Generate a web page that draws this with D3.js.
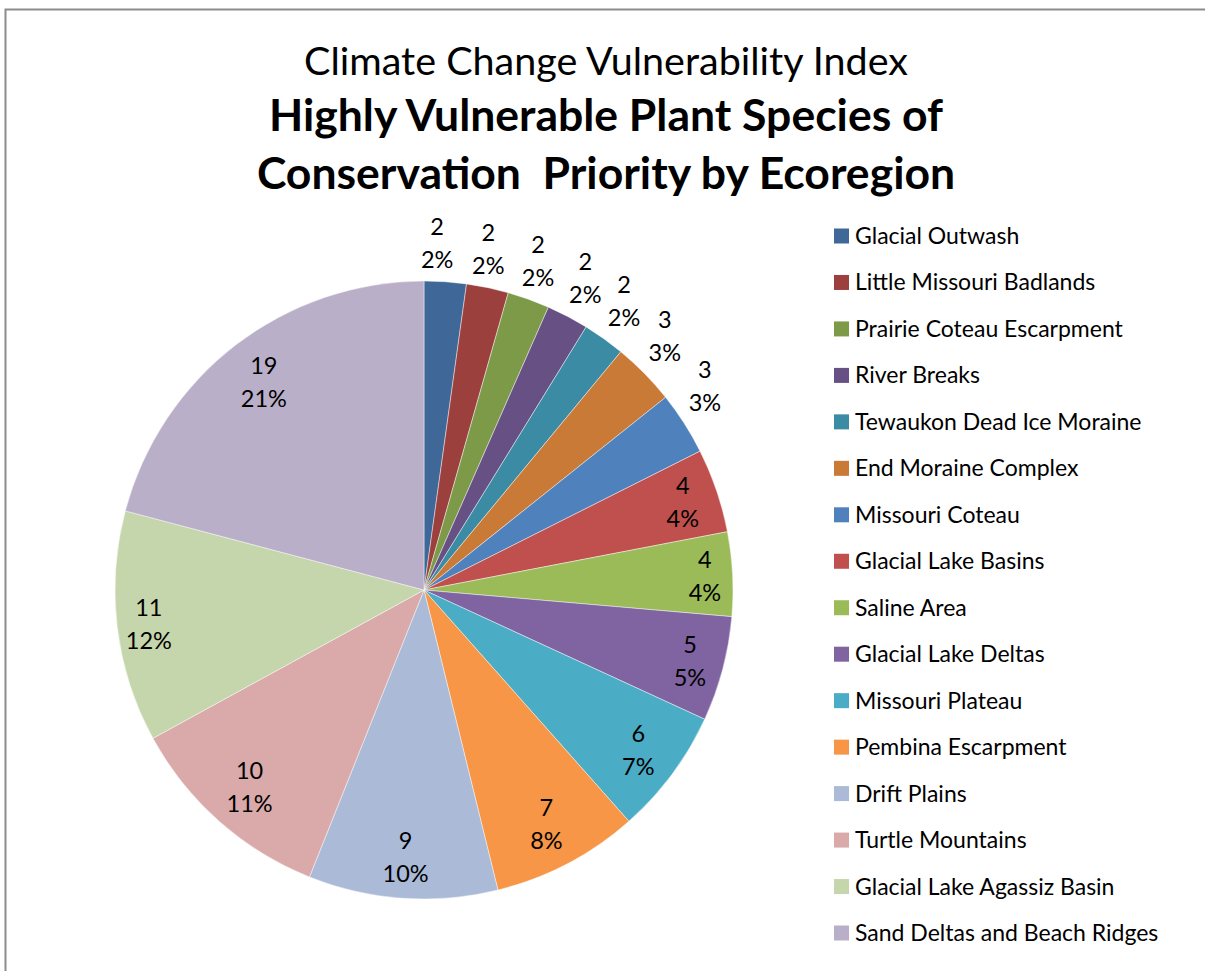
<!DOCTYPE html>
<html>
<head>
<meta charset="utf-8">
<script src="https://cdn.jsdelivr.net/npm/d3@7"></script>
<style>
  html, body { margin: 0; padding: 0; background: #fff; }
  svg { display: block; }
  text { font-family: Lato, "Open Sans", sans-serif; fill: #000; }
</style>
</head>
<body>
<svg id="chart" width="1205" height="971"></svg>
<script>
// Ecoregions and the number of highly vulnerable plant species in each
const regions = [
  "Glacial Outwash", "Little Missouri Badlands", "Prairie Coteau Escarpment",
  "River Breaks", "Tewaukon Dead Ice Moraine", "End Moraine Complex",
  "Missouri Coteau", "Glacial Lake Basins", "Saline Area", "Glacial Lake Deltas",
  "Missouri Plateau", "Pembina Escarpment", "Drift Plains", "Turtle Mountains",
  "Glacial Lake Agassiz Basin", "Sand Deltas and Beach Ridges"
];
const speciesCounts = [2, 2, 2, 2, 2, 3, 3, 4, 4, 5, 6, 7, 9, 10, 11, 19];
const sliceColors = [
  "#3F6899", "#9C403D", "#7D9A48", "#675083", "#3A8BA3", "#CA7A37",
  "#4F81BD", "#C0504D", "#9BBB59", "#8064A2", "#4BACC6", "#F79646",
  "#AABAD7", "#D9AAA9", "#C6D6AC", "#BAAFC9"
];
const titleLines = [
  { text: "Climate Change Vulnerability Index", bold: false },
  { text: "Highly Vulnerable Plant Species of", bold: true },
  { text: "Conservation  Priority by Ecoregion", bold: true }
];

const svg = d3.select("#chart");

// chart frame
svg.append("rect")
  .attr("x", 5.5).attr("y", 9.5)
  .attr("width", 1260).attr("height", 1000)
  .attr("fill", "#fff")
  .attr("stroke", "#8c8c8c").attr("stroke-width", 2);

// titles
const titleY = [75, 131, 189];
svg.append("g").selectAll("text")
  .data(titleLines)
  .join("text")
  .attr("x", 606)
  .attr("y", (d, i) => titleY[i])
  .attr("text-anchor", "middle")
  .attr("font-size", d => d.bold ? 44.5 : 39.5)
  .attr("font-weight", d => d.bold ? 700 : 400)
  .style("white-space", "pre")
  .attr("xml:space", "preserve")
  .text(d => d.text);

// pie
const cx = 424, cy = 590, radius = 309;
const data = regions.map((name, i) => ({ name, value: speciesCounts[i], color: sliceColors[i] }));
const total = d3.sum(speciesCounts);

const pie = d3.pie().value(d => d.value).sort(null);
const arcs = pie(data);
const arc = d3.arc().innerRadius(0).outerRadius(radius);

const g = svg.append("g").attr("transform", `translate(${cx},${cy})`);
g.selectAll("path")
  .data(arcs)
  .join("path")
  .attr("d", arc)
  .attr("fill", d => d.data.color)
  .attr("stroke", "rgba(255,255,255,0.55)")
  .attr("stroke-width", 0.8);

// data labels: value and share, outside for the thin slices, inside otherwise
const fmtPct = v => Math.round(v / total * 100) + "%";
const labelSize = 23.5;
const lineGap = 33;
const clamp = (v, a, b) => Math.max(a, Math.min(b, v));

arcs.forEach(d => {
  const mid = (d.startAngle + d.endAngle) / 2;
  const s = Math.sin(mid), c = Math.cos(mid);
  const hw = 18, hh = 33;
  let x, y;
  if (d.data.value <= 3) {
    const r0 = radius + 2;
    x = r0 * s + (hw + 1) * clamp((s - 0.2) / 0.3, -1, 1);
    y = -r0 * c - hh - 4;
  } else {
    const w2 = d.data.value >= 9 ? 20 : 18;
    const dist = radius - 8 - (w2 * Math.abs(s) + hh * Math.abs(c));
    x = dist * s;
    y = -dist * c;
  }
  const t = g.append("text")
    .attr("text-anchor", "middle")
    .attr("font-size", labelSize);
  t.append("tspan").attr("x", x).attr("y", y - lineGap / 2)
    .attr("dominant-baseline", "central").text(d.data.value);
  t.append("tspan").attr("x", x).attr("y", y + lineGap / 2)
    .attr("dominant-baseline", "central").text(fmtPct(d.data.value));
});

// legend
const legendY = d3.scalePoint().domain(regions).range([236, 933]);
const legend = svg.append("g");
const rows = legend.selectAll("g")
  .data(data)
  .join("g")
  .attr("transform", d => `translate(834,${legendY(d.name)})`);
rows.append("rect")
  .attr("x", 0).attr("y", -7.5)
  .attr("width", 15).attr("height", 15)
  .attr("fill", d => d.color);
rows.append("text")
  .attr("x", 21).attr("y", -1)
  .attr("dominant-baseline", "central")
  .attr("font-size", 23)
  .text(d => d.name);
</script>
</body>
</html>
